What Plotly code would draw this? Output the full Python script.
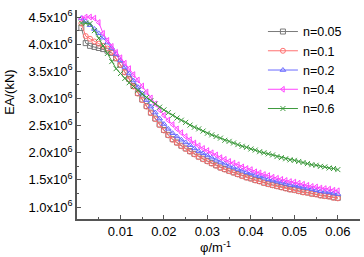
import plotly.graph_objects as go

# curvature phi (1/m)
phi = [round(0.001 * (i + 1), 3) for i in range(60)]

# EA values in units of 10^6 kN
ea_n005 = [4.30, 4.02, 3.97, 3.95, 3.93, 3.91, 3.88, 3.84, 3.74, 3.62,
           3.49, 3.36, 3.23, 3.10, 2.98, 2.86, 2.74, 2.63, 2.52, 2.42,
           2.33, 2.25, 2.19, 2.13, 2.08, 2.03, 1.98, 1.93, 1.89, 1.85,
           1.81, 1.77, 1.73, 1.70, 1.67, 1.64, 1.61, 1.58, 1.55, 1.53,
           1.50, 1.48, 1.45, 1.43, 1.41, 1.39, 1.37, 1.35, 1.33, 1.32,
           1.30, 1.28, 1.27, 1.25, 1.24, 1.22, 1.21, 1.20, 1.18, 1.17]
ea_n01 = [4.38, 4.15, 4.10, 4.05, 4.01, 3.97, 3.92, 3.85, 3.74, 3.62,
          3.48, 3.35, 3.22, 3.09, 2.97, 2.85, 2.73, 2.62, 2.51, 2.41,
          2.32, 2.24, 2.18, 2.12, 2.07, 2.02, 1.97, 1.92, 1.88, 1.84,
          1.80, 1.76, 1.72, 1.69, 1.66, 1.63, 1.60, 1.57, 1.54, 1.52,
          1.49, 1.47, 1.44, 1.42, 1.40, 1.38, 1.36, 1.34, 1.32, 1.31,
          1.29, 1.27, 1.26, 1.24, 1.23, 1.21, 1.20, 1.19, 1.17, 1.16]
ea_n02 = [4.48, 4.42, 4.35, 4.28, 4.20, 4.12, 4.03, 3.93, 3.82, 3.70,
          3.58, 3.46, 3.33, 3.21, 3.09, 2.97, 2.85, 2.74, 2.63, 2.53,
          2.44, 2.36, 2.30, 2.24, 2.19, 2.14, 2.08, 2.03, 1.99, 1.95,
          1.91, 1.87, 1.83, 1.80, 1.76, 1.73, 1.70, 1.67, 1.64, 1.62,
          1.59, 1.57, 1.54, 1.51, 1.49, 1.47, 1.45, 1.43, 1.41, 1.40,
          1.38, 1.36, 1.35, 1.33, 1.31, 1.29, 1.28, 1.27, 1.25, 1.24]
ea_n04 = [4.47, 4.50, 4.50, 4.48, 4.40, 4.20, 4.07, 3.96, 3.85, 3.75,
          3.65, 3.55, 3.44, 3.34, 3.23, 3.12, 3.01, 2.90, 2.79, 2.69,
          2.60, 2.52, 2.44, 2.37, 2.30, 2.24, 2.18, 2.13, 2.08, 2.04,
          2.00, 1.96, 1.91, 1.88, 1.84, 1.81, 1.78, 1.74, 1.71, 1.69,
          1.65, 1.63, 1.60, 1.58, 1.55, 1.53, 1.51, 1.49, 1.47, 1.46,
          1.44, 1.42, 1.40, 1.38, 1.37, 1.35, 1.34, 1.33, 1.31, 1.30]
ea_n06 = [4.39, 4.39, 4.38, 4.25, 4.11, 3.97, 3.83, 3.68, 3.55, 3.46,
          3.37, 3.29, 3.22, 3.15, 3.08, 3.02, 2.96, 2.90, 2.84, 2.79,
          2.74, 2.69, 2.64, 2.60, 2.56, 2.51, 2.47, 2.44, 2.40, 2.36,
          2.33, 2.30, 2.27, 2.23, 2.21, 2.18, 2.15, 2.12, 2.10, 2.07,
          2.05, 2.02, 2.00, 1.98, 1.96, 1.93, 1.91, 1.89, 1.87, 1.86,
          1.84, 1.82, 1.80, 1.78, 1.77, 1.75, 1.74, 1.72, 1.71, 1.69]

series_names = ["n=0.05", "n=0.1", "n=0.2", "n=0.4", "n=0.6"]
series_vals = [ea_n005, ea_n01, ea_n02, ea_n04, ea_n06]
colors = ["#7a7a7a", "#ff7070", "#6a6aff", "#ff44ff", "#3c9a3c"]
symbols = ["square-open", "circle-open", "triangle-up-open", "triangle-left-open", "x-thin-open"]

y_tickvals = [1.0, 1.5, 2.0, 2.5, 3.0, 3.5, 4.0, 4.5]
y_ticktext = [f"{v:.1f}x10<sup>6</sup>" for v in y_tickvals]
x_tickvals = [0.01, 0.02, 0.03, 0.04, 0.05, 0.06]
x_ticktext = ["0.01", "0.02", "0.03", "0.04", "0.05", "0.06"]

FONT = "Liberation Sans, Arial, sans-serif"

fig = go.Figure()
for name, vals, c, s in zip(series_names, series_vals, colors, symbols):
    fig.add_trace(go.Scatter(
        x=phi, y=[v * 1e6 for v in vals], name=name, mode="lines+markers",
        line=dict(color=c, width=1),
        marker=dict(symbol=s, size=5, color=c, line=dict(color=c, width=1)),
    ))

fig.update_layout(
    width=364, height=257,
    margin=dict(l=77, r=4, t=10, b=38),
    paper_bgcolor="white", plot_bgcolor="white",
    font=dict(family=FONT, size=13, color="black"),
    showlegend=True,
    legend=dict(x=0.657, y=0.967, xanchor="left", yanchor="top",
                bgcolor="rgba(0,0,0,0)", font=dict(size=12.5),
                tracegroupgap=0, itemwidth=30),
    xaxis=dict(range=[0.0, 0.0651], tickvals=x_tickvals, ticktext=x_ticktext,
               showgrid=False, zeroline=False, showline=True, linecolor="#555555",
               linewidth=1.5, ticks="inside", ticklen=4, tickcolor="#555555",
               minor=dict(ticks="inside", ticklen=2, tickcolor="#555555",
                          tickvals=[0.005, 0.015, 0.025, 0.035, 0.045, 0.055, 0.065]),
               tickfont=dict(size=13)),
    yaxis=dict(range=[0.78e6, 4.63e6], tickvals=[v * 1e6 for v in y_tickvals],
               ticktext=y_ticktext, showgrid=False, zeroline=False, showline=True,
               linecolor="#555555", linewidth=1.5, ticks="inside", ticklen=4,
               tickcolor="#555555",
               minor=dict(ticks="inside", ticklen=2, tickcolor="#555555",
                          tickvals=[v * 1e6 for v in [1.25, 1.75, 2.25, 2.75, 3.25, 3.75, 4.25]]),
               tickfont=dict(size=13)),
    annotations=[
        dict(text="EA/(kN)", xref="paper", yref="paper", x=-0.237, y=0.608,
             textangle=-90, showarrow=False, font=dict(size=13),
             xanchor="center", yanchor="middle"),
        dict(text="φ/m<sup>-1</sup>", xref="paper", yref="paper", x=0.49, y=-0.18,
             showarrow=False, font=dict(size=13), xanchor="center", yanchor="bottom"),
    ],
)

fig.write_html("out.html", config={"displayModeBar": False},
               post_script="document.body.style.margin='0';")
